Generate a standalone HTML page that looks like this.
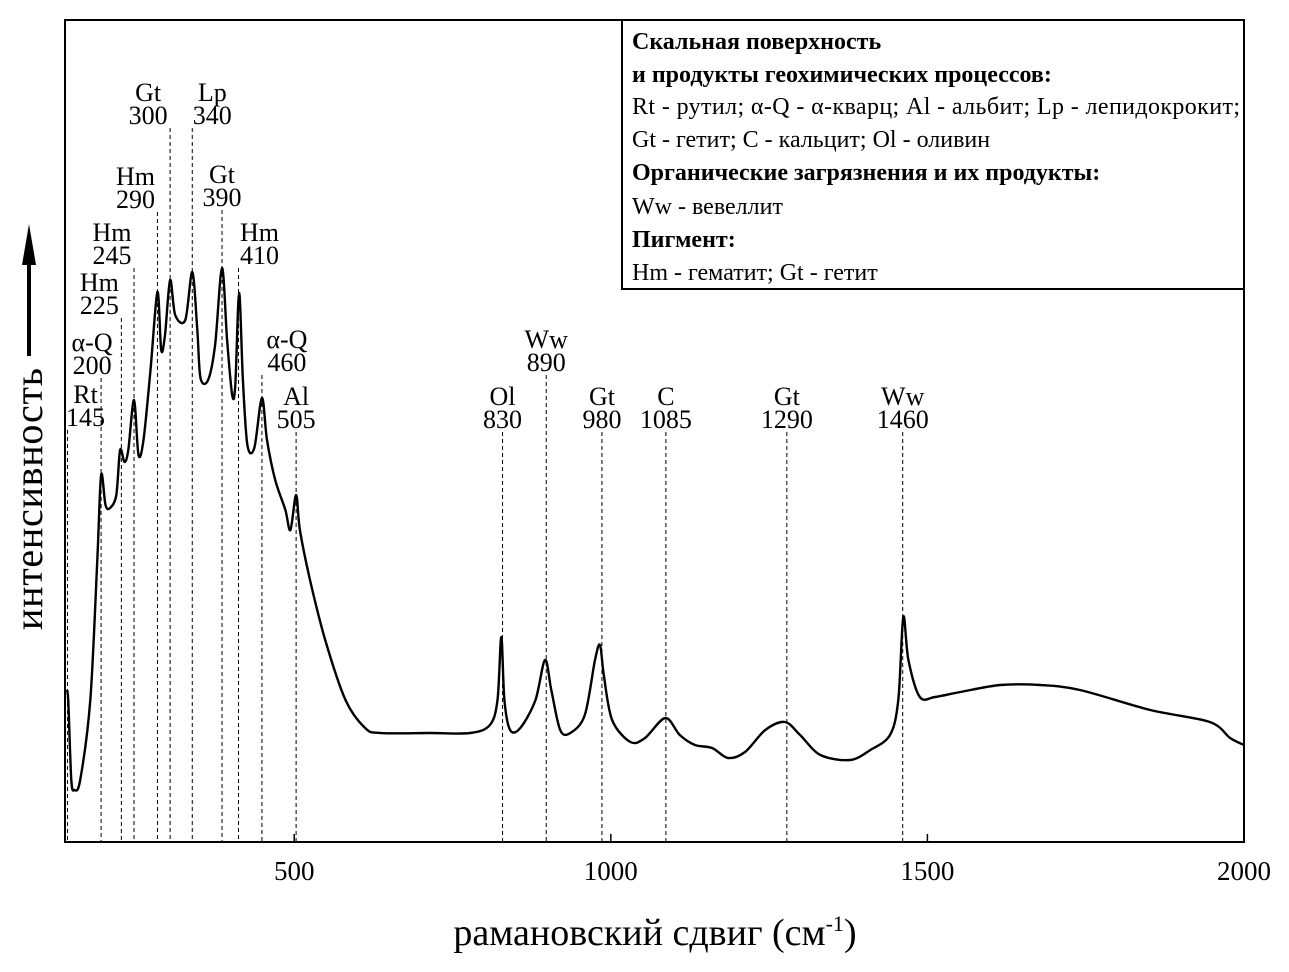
<!DOCTYPE html>
<html><head><meta charset="utf-8">
<style>
html,body{margin:0;padding:0;background:#fff;}
svg{display:block;}
.lbl{font-family:"Liberation Serif",serif;font-size:26px;fill:#000;}
.lg{font-family:"Liberation Serif",serif;font-size:24px;fill:#000;}
.lgb{font-family:"Liberation Serif",serif;font-size:24px;font-weight:bold;fill:#000;}
</style></head>
<body>
<svg id="chart" width="1289" height="972" xmlns="http://www.w3.org/2000/svg">
<rect x="65" y="20" width="1179" height="822" fill="none" stroke="#000" stroke-width="2"/>
<g id="markers"></g>
<g id="labels"></g>
<path id="line" fill="none" stroke="#000" stroke-width="2.4"/>
<g id="ticks"></g>
<text x="655" y="945" text-anchor="middle" font-family="Liberation Serif, serif" font-size="38">рамановский сдвиг (см<tspan dy="-14" font-size="22">-1</tspan><tspan dy="14">)</tspan></text>
<g>
<text transform="translate(42,630) rotate(-90)" textLength="262" font-family="Liberation Serif, serif" font-size="40">интенсивность</text>
<line x1="29" y1="356" x2="29" y2="262" stroke="#000" stroke-width="4"/>
<polygon points="22,265 36,265 29,224" fill="#000"/>
</g>
<g>
<rect x="622" y="20" width="622" height="269" fill="#fff" stroke="#000" stroke-width="2"/>
<text class="lgb" x="632" y="49">Скальная поверхность</text>
<text class="lgb" x="632" y="82">и продукты геохимических процессов:</text>
<text class="lg" x="632" y="114" textLength="608">Rt - рутил; α-Q - α-кварц; Al - альбит; Lp - лепидокрокит;</text>
<text class="lg" x="632" y="147">Gt - гетит; C - кальцит; Ol - оливин</text>
<text class="lgb" x="632" y="180">Органические загрязнения и их продукты:</text>
<text class="lg" x="632" y="214">Ww - вевеллит</text>
<text class="lgb" x="632" y="247">Пигмент:</text>
<text class="lg" x="632" y="280">Hm - гематит; Gt - гетит</text>
</g>
</svg>
<script>
const waves=[140,143,148,153,162,178,189,195,202,209,219,225,232,238,247,254,262,273,284,290,296,304,312,328,339,347,352,364,375,386,394,402,407,413,419,426,437,449,457,470,486,494,503,509,525,549,581,612,636,715,778,809,821,827,832,841,857,881,896,906,920,936,959,975,983,989,1002,1031,1054,1086,1109,1133,1160,1185,1212,1244,1275,1299,1331,1378,1410,1441,1454,1462,1470,1488,1512,1552,1615,1678,1741,1852,1946,1978,2000];
const intensity=[15.2,14.2,6.2,5.2,6.2,14.2,28.2,36.7,33.7,33.4,34.7,39.2,38,39.2,44.2,38.7,40.2,47.2,55,49.2,50.7,56.2,52.7,52.2,57,51.2,46.4,46.2,49.7,57.4,50.2,44.7,45.7,54.9,46.2,39.7,39.4,44.4,40.2,36.2,33.2,31.2,34.7,31.2,26.2,20.2,14.2,11.4,10.9,10.9,10.9,11.7,14.2,20.5,14.2,11.2,11.4,14.2,18.2,15.2,11.2,10.9,12.7,18.2,19.7,16.7,12.2,10,10.4,12.4,10.7,9.7,9.4,8.4,9,11.2,12,10.7,8.7,8.2,9.2,10.7,14.2,22.5,18.2,14.5,14.5,15,15.7,15.7,15.2,13.2,12,10.4,9.7];
const peakPos=[142,195,227,247,284,304,339,386,412,449,503,829,898,986,1087,1278,1461];
const peakName=["Rt","α-Q","Hm","Hm","Hm","Gt","Lp","Gt","Hm","α-Q","Al","Ol","Ww","Gt","C","Gt","Ww"];
const peakNum=["145","200","225","245","290","300","340","390","410","460","505","830","890","980","1085","1290","1460"];
const peakTop=[41.2,46.4,52.4,57.4,63,71.4,71.4,63.2,57.4,46.7,41,41,46.7,41,41,41,41];
const tickVals=[500,1000,1500,2000];
const tickLabels=["500","1000","1500","2000"];
const xMin=138,xMax=2000;
const X=v=>65+(v-xMin)/(xMax-xMin)*1179;
const Y=i=>842-i*10;
const NS="http://www.w3.org/2000/svg";
const pts=waves.map((w,k)=>[X(w),Y(intensity[k])]);
let d="M"+pts[0][0].toFixed(1)+","+pts[0][1].toFixed(1);
const t=0.35;
for(let k=0;k<pts.length-1;k++){
 const p0=pts[k-1]||pts[k],p1=pts[k],p2=pts[k+1],p3=pts[k+2]||p2;
 const c1=[p1[0]+(p2[0]-p0[0])*t/2*0.9,p1[1]+(p2[1]-p0[1])*t/2*0.9];
 const c2=[p2[0]-(p3[0]-p1[0])*t/2*0.9,p2[1]-(p3[1]-p1[1])*t/2*0.9];
 d+="C"+c1[0].toFixed(1)+","+c1[1].toFixed(1)+" "+c2[0].toFixed(1)+","+c2[1].toFixed(1)+" "+p2[0].toFixed(1)+","+p2[1].toFixed(1);
}
document.getElementById('line').setAttribute('d',d);
const mg=document.getElementById('markers'),lg=document.getElementById('labels');
peakPos.forEach((p,k)=>{
 const x=X(p),yt=Y(peakTop[k]);
 const l=document.createElementNS(NS,'line');
 l.setAttribute('x1',x);l.setAttribute('x2',x);l.setAttribute('y1',yt);l.setAttribute('y2',842);
 l.setAttribute('stroke','#000');l.setAttribute('stroke-width','1');l.setAttribute('stroke-dasharray','4,3');
 
 
 mg.appendChild(l);
 let cx=x;
 if(k===0)cx=x+18; else if(k<=4)cx=x-22; else if(k===5)cx=x-22; else if(k===6)cx=x+20; else if(k===7)cx=x; else if(k===8)cx=x+21; else if(k===9)cx=x+25;
 if(k===1)cx=x-9;
 const t1=document.createElementNS(NS,'text');
 t1.setAttribute('class','lbl');t1.setAttribute('x',cx);t1.setAttribute('y',yt-27);t1.setAttribute('text-anchor','middle');
 t1.textContent=peakName[k];
 
 
 lg.appendChild(t1);
 const t2=document.createElementNS(NS,'text');
 t2.setAttribute('class','lbl');t2.setAttribute('x',cx);t2.setAttribute('y',yt-4);t2.setAttribute('text-anchor','middle');
 t2.textContent=peakNum[k];
 
 
 lg.appendChild(t2);
});
const tg=document.getElementById('ticks');
tickVals.forEach((v,k)=>{
 const tl=document.createElementNS(NS,'line');
 tl.setAttribute('x1',X(v));tl.setAttribute('x2',X(v));tl.setAttribute('y1',842);tl.setAttribute('y2',834);
 tl.setAttribute('stroke','#000');tl.setAttribute('stroke-width','1.5');
 
 
 tg.appendChild(tl);
 const tx=document.createElementNS(NS,'text');
 tx.setAttribute('x',X(v));tx.setAttribute('y',880);tx.setAttribute('text-anchor','middle');
 tx.setAttribute('font-family','Liberation Serif, serif');tx.setAttribute('font-size','27');
 tx.textContent=tickLabels[k];
 
 
 tg.appendChild(tx);
});
</script>
</body></html>
